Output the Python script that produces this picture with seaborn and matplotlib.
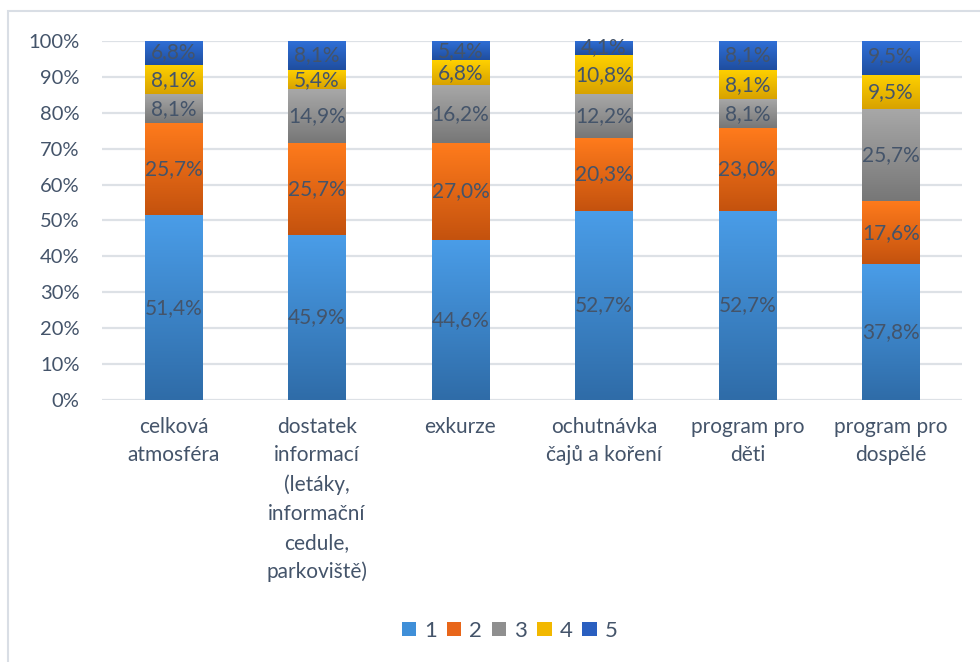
import numpy as np
import pandas as pd
import seaborn as sns
import matplotlib.pyplot as plt
from matplotlib.colors import LinearSegmentedColormap
from matplotlib.patches import Patch, Rectangle

categories = ["celková\natmosféra",
              "dostatek\ninformací\n(letáky,\ninformační\ncedule,\nparkoviště)",
              "exkurze",
              "ochutnávka\nčajů a koření",
              "program pro\nděti",
              "program pro\ndospělé"]
scores = ["1", "2", "3", "4", "5"]
s1 = [51.4, 45.9, 44.6, 52.7, 52.7, 37.8]
s2 = [25.7, 25.7, 27.0, 20.3, 23.0, 17.6]
s3 = [8.1, 14.9, 16.2, 12.2, 8.1, 25.7]
s4 = [8.1, 5.4, 6.8, 10.8, 8.1, 9.5]
s5 = [6.8, 8.1, 5.4, 4.1, 8.1, 9.5]
series = [s1, s2, s3, s4, s5]

# top / bottom colour of the Excel-like gradient
grad_cols = [("#4A9DE8", "#2F6CA8"),
             ("#FF7B1C", "#C4520E"),
             ("#A8A8A8", "#777777"),
             ("#FFD100", "#D8A200"),
             ("#3070D8", "#1F4E9F")]
legend_cols = ["#3F8FD8", "#E8661A", "#8F8F8F", "#F2B800", "#2A5FC0"]

text_col = "#44546A"

sns.set_style("white")
plt.rcParams['font.family'] = ['Lato', 'DejaVu Sans']

fig = plt.figure(figsize=(9.8, 6.62), dpi=100)
ax = fig.add_axes([0.104, 0.396, 0.878, 0.542])

bottom = np.zeros(len(categories))
for i, vals in enumerate(series):
    df = pd.DataFrame({"cat": categories, "val": np.array(vals) / 100})
    sns.barplot(data=df, x="cat", y="val", color=grad_cols[i][0], width=0.4,
                bottom=bottom, errorbar=None, ax=ax, saturation=1, linewidth=0)
    bottom = bottom + np.array(vals) / 100

# gradient fill clipped to each bar segment
for idx, patch in enumerate(ax.patches):
    si = idx // len(categories)
    cmap = LinearSegmentedColormap.from_list("g", [grad_cols[si][1], grad_cols[si][0]])
    x, y = patch.get_x(), patch.get_y()
    w, h = patch.get_width(), patch.get_height()
    top = min(y + h, 1.0)
    im = ax.imshow(np.linspace(0, 1, 128).reshape(-1, 1), cmap=cmap, origin="lower",
                   extent=[x, x + w, y, top], aspect="auto", zorder=2)
    im.set_clip_path(patch)

# data labels
bottom = np.zeros(len(categories))
for i, vals in enumerate(series):
    for j, v in enumerate(vals):
        yc = bottom[j] + v / 200
        if bottom[j] + v / 100 > 1.0:
            yc = bottom[j] + (1.0 - bottom[j]) / 2 + 0.004
        ax.text(j, yc, f"{v:.1f}".replace(".", ",") + "%", ha="center", va="center",
                fontsize=15, color=text_col, zorder=5)
    bottom = bottom + np.array(vals) / 100

ax.set_xlim(-0.5, len(categories) - 0.5)
ax.set_ylim(0, 1)
ax.set_yticks(np.arange(0, 1.01, 0.1))
ax.set_yticklabels([f"{int(round(t * 100))}%" for t in np.arange(0, 1.01, 0.1)])
ax.yaxis.grid(True, color="#DDE1E6", linewidth=1.6, zorder=0)
ax.set_axisbelow(True)
for sp in ax.spines.values():
    sp.set_visible(False)
ax.tick_params(axis="y", length=0, pad=16, labelsize=14.5, labelcolor=text_col)
ax.tick_params(axis="x", length=0, pad=12, labelsize=15, labelcolor=text_col)
for lab in ax.get_xticklabels():
    lab.set_linespacing(1.55)
    lab.set_va("top")
ax.set_xlabel("")
ax.set_ylabel("")

handles = [Patch(facecolor=c, edgecolor="none") for c in legend_cols]
fig.legend(handles, scores, loc="center", bbox_to_anchor=(0.52, 0.047), ncol=5,
           frameon=False, fontsize=16, handlelength=0.65, handleheight=0.65,
           handletextpad=0.35, columnspacing=0.45, labelcolor=text_col)

# outer chart border (left and top visible)
fig.add_artist(Rectangle((8 / 980, -0.1), 1.2, 1 - 11 / 662 + 0.1, transform=fig.transFigure,
                         fill=False, edgecolor="#D9DEE5", linewidth=1.5))

fig.savefig("out.png", dpi=100)
